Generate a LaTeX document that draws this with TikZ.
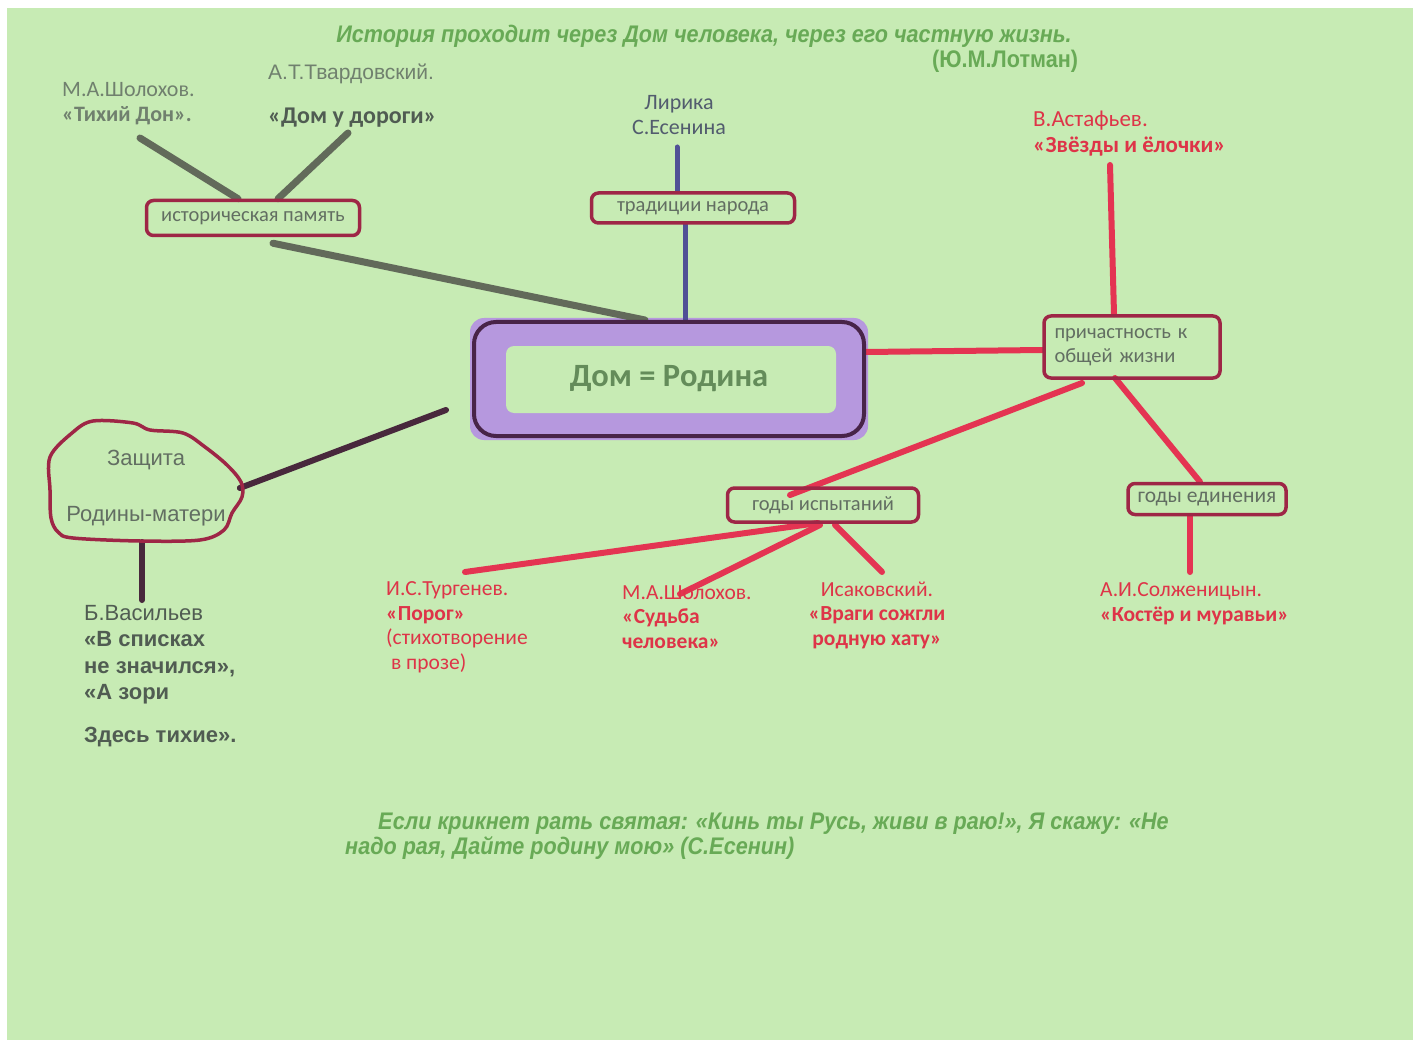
\documentclass[tikz,border=0pt]{standalone}
\usepackage{fontspec}
\setmainfont{Carlito}
\newfontfamily\arialfont{Liberation Sans}
\newfontfamily\narrowfont[FakeStretch=0.9]{Liberation Sans}
\usetikzlibrary{backgrounds}

\definecolor{bggreen}{RGB}{199,235,180}
\definecolor{titlegreen}{RGB}{104,170,86}
\definecolor{greytext}{RGB}{112,128,110}
\definecolor{darkgrey}{RGB}{80,92,82}
\definecolor{slatetext}{RGB}{82,92,110}
\definecolor{redtext}{RGB}{222,52,72}
\definecolor{boxred}{RGB}{158,38,70}
\definecolor{boxtext}{RGB}{98,110,98}
\definecolor{lavender}{RGB}{182,152,222}
\definecolor{darkpurple}{RGB}{72,36,72}
\definecolor{homegreen}{RGB}{100,140,90}
\definecolor{oliveline}{RGB}{98,106,90}
\definecolor{blueline}{RGB}{80,80,150}
\definecolor{darkline}{RGB}{72,40,60}
\definecolor{redline}{RGB}{228,52,82}

\begin{document}
\begin{tikzpicture}[x=1pt,y=-1pt,
    txt/.style={inner sep=0pt, anchor=base west, align=left},
    quote/.style={txt, text=titlegreen, font=\narrowfont\bfseries\itshape\fontsize{24}{25}\selectfont},
    red/.style={txt, text=redtext, font=\fontsize{21.5}{24.5}\selectfont},
    boxlabel/.style={draw=boxred, line width=3.5pt, rounded corners=7pt, text=boxtext,
        font=\fontsize{20.5}{24}\selectfont, inner sep=0pt},
    olive/.style={draw=oliveline, line width=7pt, line cap=round},
    blue/.style={draw=blueline, line width=5pt, line cap=round},
    dark/.style={draw=darkline, line width=6pt, line cap=round},
    redl/.style={draw=redline, line width=6pt, line cap=round}]
    \useasboundingbox (0,0) rectangle (1418,1048);
    % background
    \begin{scope}[on background layer]
        \fill[white] (0,0) rectangle (1418,1048);
        \fill[bggreen] (7,8) rectangle (1413,1040);
    \end{scope}

    % quotes
    \node[quote, anchor=base] (lotman) at (704,43) {История проходит через Дом человека, через его частную жизнь.};
    \node[quote, font=\narrowfont\bfseries\fontsize{24}{25}\selectfont] (lotmanname) at (932,68) {(Ю.М.Лотман)};
    \node[quote] (esenin) at (378,829) {Если крикнет рать святая: «Кинь ты Русь, живи в раю!», Я скажу: «Не};
    \node[quote] (esenin2) at (345,854) {надо рая, Дайте родину мою» (С.Есенин)};

    % centre
    \node[draw=darkpurple, line width=4pt, rounded corners=22pt, minimum width=390pt, minimum height=114pt,
        text=homegreen, font=\bfseries\fontsize{32.5}{34}\selectfont] (home) at (669,379) {Дом = Родина};

    % boxes
    \node[boxlabel, minimum width=213pt, minimum height=35pt] (istpam) at (253,218) {историческая память};
    \node[boxlabel, minimum width=203pt, minimum height=30pt] (tradition) at (693,208) {традиции народа};
    \node[boxlabel, minimum width=176pt, minimum height=62pt, text width=155pt, align=left] (prich) at (1132,347)
        {причастность к\\общей жизни};
    \node[boxlabel, minimum width=191pt, minimum height=34pt] (ispyt) at (823,505) {годы испытаний};
    \node[boxlabel, minimum width=158pt, minimum height=31pt, font=\fontsize{21.5}{24}\selectfont] (edin) at (1207,499)
        {годы единения};
    \node[inner sep=0pt, align=center, text=boxtext, font=\arialfont\fontsize{22}{24}\selectfont]
        (defence) at (146,488) {Защита\\[32pt]Родины-матери};
    \draw[draw=boxred, line width=3.5pt] plot[smooth cycle, tension=0.55] coordinates {
        (50,457) (72,433) (93,421) (133,423) (150,430) (183,433) (205,447) (227,465) (241,482)
        (242,497) (232,513) (224,530) (200,540) (140,541) (73,538) (58,532) (51,518) (50,490)};

    % authors
    \node[txt, text=greytext, font=\fontsize{22}{25}\selectfont] (sholokhov) at (62,122) {М.А.Шолохов.\\\textbf{«Тихий Дон».}};
    \node[txt, text=greytext, font=\arialfont\fontsize{21}{24}\selectfont] (tvard) at (268,80) {А.Т.Твардовский.};
    \node[txt, text=darkgrey, font=\bfseries\fontsize{24}{25}\selectfont] (domu) at (268,124) {«Дом у дороги»};
    \node[txt, anchor=base, align=center, text=slatetext, font=\fontsize{22}{25}\selectfont] (lyric) at (679,135) {Лирика\\С.Есенина};
    \node[red, font=\fontsize{23}{26}\selectfont] (astafiev) at (1033,153) {В.Астафьев.\\\textbf{«Звёзды и ёлочки»}};
    \node[txt, text=darkgrey, font=\arialfont\fontsize{22}{26.5}\selectfont] (vasiliev) at (84,742)
        {Б.Васильев\\\textbf{«В списках}\\\textbf{не значился»,}\\\textbf{«А зори}\\[16pt]\textbf{Здесь тихие».}};
    \node[red] (turgenev) at (386,669) {И.С.Тургенев.\\\textbf{«Порог»}\\(стихотворение\\\ в прозе)};
    \node[red] (sholokhov2) at (622,648) {М.А.Шолохов.\\\textbf{«Судьба}\\\textbf{человека»}};
    \node[red, anchor=base, align=center] (isakov) at (877,645) {Исаковский.\\\textbf{«Враги сожгли}\\\textbf{родную хату»}};
    \node[red] (solzh) at (1100,621) {А.И.Солженицын.\\\textbf{«Костёр и муравьи»}};

    % free ends
    \coordinate (tihiend) at (140,138);
    \coordinate (domuend) at (348,133);
    \coordinate (lyricend) at (677,147);
    \coordinate (astafend) at (1110,165);
    \coordinate (vasend) at (142,600);
    \coordinate (turgend) at (465,572);
    \coordinate (sholend) at (680,594);
    \coordinate (isakend) at (882,572);
    \coordinate (solzhend) at (1190,572);

    % connectors
    \begin{scope}[on background layer]
        \fill[lavender, rounded corners=14pt] ([shift={(-2,-2)}]home.north west) rectangle ([shift={(2,2)}]home.south east);
        \fill[bggreen, rounded corners=8pt] ([shift={(34,26)}]home.north west) rectangle ([shift={(-30,-25)}]home.south east);
        \draw[olive] (tihiend) -- ([xshift=-15]istpam.north);
        \draw[olive] (domuend) -- ([xshift=25]istpam.north);
        \draw[olive] ([shift={(20,6)}]istpam.south) -- ([xshift=-24]home.north);
        \draw[blue] (lyricend) -- ([xshift=-16]tradition.north);
        \draw[blue] ([xshift=-8]tradition.south) -- ([xshift=16]home.north);
        \draw[dark] ([xshift=14]defence.east) -- ([shift={(-26,31)}]home.west);
        \draw[dark] ([shift={(-4,54)}]defence.center) -- (vasend);
        \draw[redl] ([shift={(0,-27)}]home.east) -- ([shift={(0,3)}]prich.west);
        \draw[redl] (astafend) -- ([xshift=-18]prich.north);
        \draw[redl] ([shift={(-50,36)}]prich.center) -- ([shift={(-33,-10)}]ispyt.center);
        \draw[redl] ([shift={(-17,31)}]prich.center) -- ([xshift=-7]edin.north);
        \draw[redl] ([xshift=-17]edin.south) -- (solzhend);
        \draw[redl] ([shift={(-5,18)}]ispyt.center) -- (turgend);
        \draw[redl] ([shift={(-3,20)}]ispyt.center) -- (sholend);
        \draw[redl] ([shift={(12,20)}]ispyt.center) -- (isakend);
    \end{scope}
\end{tikzpicture}
\end{document}
